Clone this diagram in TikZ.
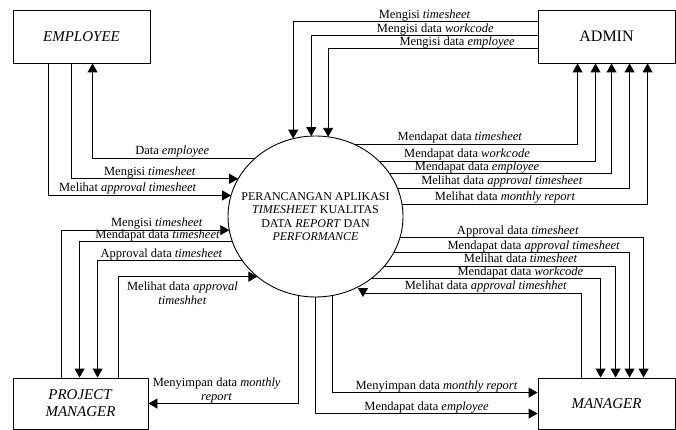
\documentclass[tikz,border=0pt]{standalone}
\usepackage{fontspec}
\setmainfont{Liberation Serif}
\usetikzlibrary{arrows.meta,shapes.geometric}
\tikzset{entity/.style={draw, rectangle, line width=0.9pt, minimum width=137pt,
  minimum height=53pt, inner sep=0pt, align=center, font=\fontsize{15}{17}\selectfont}}
\tikzset{process/.style={draw, ellipse, line width=0.9pt, minimum width=175pt,
  minimum height=161pt, inner sep=0pt, outer sep=0pt}}
\tikzset{flow/.style={line width=0.9pt, -{Triangle[width=10pt,length=9pt]}}}
\tikzset{lbl/.style={font=\fontsize{12.5}{13.5}\selectfont, inner sep=0.5pt, text height=8.5pt,
  text depth=2.5pt, align=center}}

\begin{document}
\begin{tikzpicture}[x=1pt,y=-1pt]
\useasboundingbox (0,0) rectangle (676,430);

\node [entity] (emp) at (81.5,36.5) {\textit{EMPLOYEE}};
\node [entity, font=\fontsize{16}{18}\selectfont] (adm) at (606.5,36.5) {ADMIN};
\node [entity, minimum width=135pt, minimum height=51pt] (pm) at (80.5,403.5) {\textit{PROJECT}\\\textit{MANAGER}};
\node [entity, minimum height=51pt] (man) at (606.5,403.5) {\textit{MANAGER}};

\node [process] (circ) at (315.5,216.5) {};
\node [align=center, font=\fontsize{12}{13.5}\selectfont] (circtext) at (circ) {PERANCANGAN APLIKASI\\\textit{TIMESHEET} KUALITAS\\DATA \textit{REPORT} DAN\\\textit{PERFORMANCE}};
\coordinate (mtip) at (363,297);

\draw[flow] (circ.136.8) -| node [lbl, above, pos=.255] {Data \textit{employee}} ([xshift=80pt]emp.south west);
\draw[flow] ([xshift=59pt]emp.south west) |- node [lbl, above, pos=.735] {Mengisi \textit{timesheet}} (circ.154.2);
\draw[flow] ([xshift=36pt]emp.south west) |- node [lbl, above, pos=.717] {Melihat \textit{approval timesheet}} (circ.166.4);

\draw[flow] ([yshift=-12pt]adm.north west) -| node [lbl, above, pos=.231] {Mengisi \textit{timesheet}} (circ.106.1);
\draw[flow] ([yshift=-26pt]adm.north west) -| node [lbl, above, pos=.226] {Mengisi data \textit{workcode}} (circ.93.9);
\draw[flow] ([yshift=-39pt]adm.north west) -| node [lbl, above, pos=.192] {Mengisi data \textit{employee}} (circ.81.8);

\draw[flow] (circ.62.3) -| node [lbl, above, pos=.237] {Mendapat data \textit{timesheet}} ([xshift=40pt]adm.south west);
\draw[flow] (circ.41.2) -| node [lbl, above, pos=.203] {Mendapat data \textit{workcode}} ([xshift=58pt]adm.south west);
\draw[flow] (circ.30.6) -| node [lbl, above, pos=.197] {Mendapat data \textit{employee}} ([xshift=74pt]adm.south west);
\draw[flow] (circ.19.9) -| node [lbl, above, pos=.225] {Melihat data \textit{approval timesheet}} ([xshift=92pt]adm.south west);
\draw[flow] (circ.8.9) -| node [lbl, above, pos=.21] {Melihat data \textit{monthly report}} ([xshift=110pt]adm.south west);

\draw[flow] ([xshift=49pt]pm.north west) |- node [lbl, above, pos=.784] {Mengisi \textit{timesheet}} (circ.189.6);
\draw[flow] (circ.197.8) -| node [lbl, above, pos=.245] {Mendapat data \textit{timesheet}} ([xshift=67pt]pm.north west);
\draw[flow] (circ.211.4) -| node [lbl, above, pos=.279] {Approval data \textit{timesheet}} ([xshift=85pt]pm.north west);
\draw[flow] ([xshift=106pt]pm.north west) |- node [lbl, below, text height={}, text depth={}, inner sep=5pt, pos=.73] {Melihat data \textit{approval}\\\textit{timeshhet}} (circ.226.3);
\draw[flow] (circ.258.9) |- node [lbl, above, pos=.773] {Menyimpan data \textit{monthly}\\\textit{report}} (pm.east);

\draw[flow] (circ.282.5) |- node [lbl, above, pos=.754] {Menyimpan data \textit{monthly report}} ([yshift=-15pt]man.north west);
\draw[flow] (circ.270) |- node [lbl, above, pos=.75] {Mendapat data \textit{employee}} ([yshift=-36pt]man.north west);
\draw[flow] (circ.346.4) -| node [lbl, above, pos=.242] {Approval data \textit{timesheet}} ([xshift=106pt]man.north west);
\draw[flow] (circ.335.7) -| node [lbl, above, pos=.297] {Mendapat data \textit{approval timesheet}} ([xshift=92pt]man.north west);
\draw[flow] (circ.324.3) -| node [lbl, above, pos=.295] {Melihat data \textit{timesheet}} ([xshift=78pt]man.north west);
\draw[flow] (circ.312.6) -| node [lbl, above, pos=.325] {Mendapat data \textit{workcode}} ([xshift=63pt]man.north west);
\draw[flow] ([xshift=44pt]man.north west) |- node [lbl, above, pos=.719] {Melihat data \textit{approval timeshhet}} ([yshift=4pt]mtip) -- (mtip);
\end{tikzpicture}
\end{document}
